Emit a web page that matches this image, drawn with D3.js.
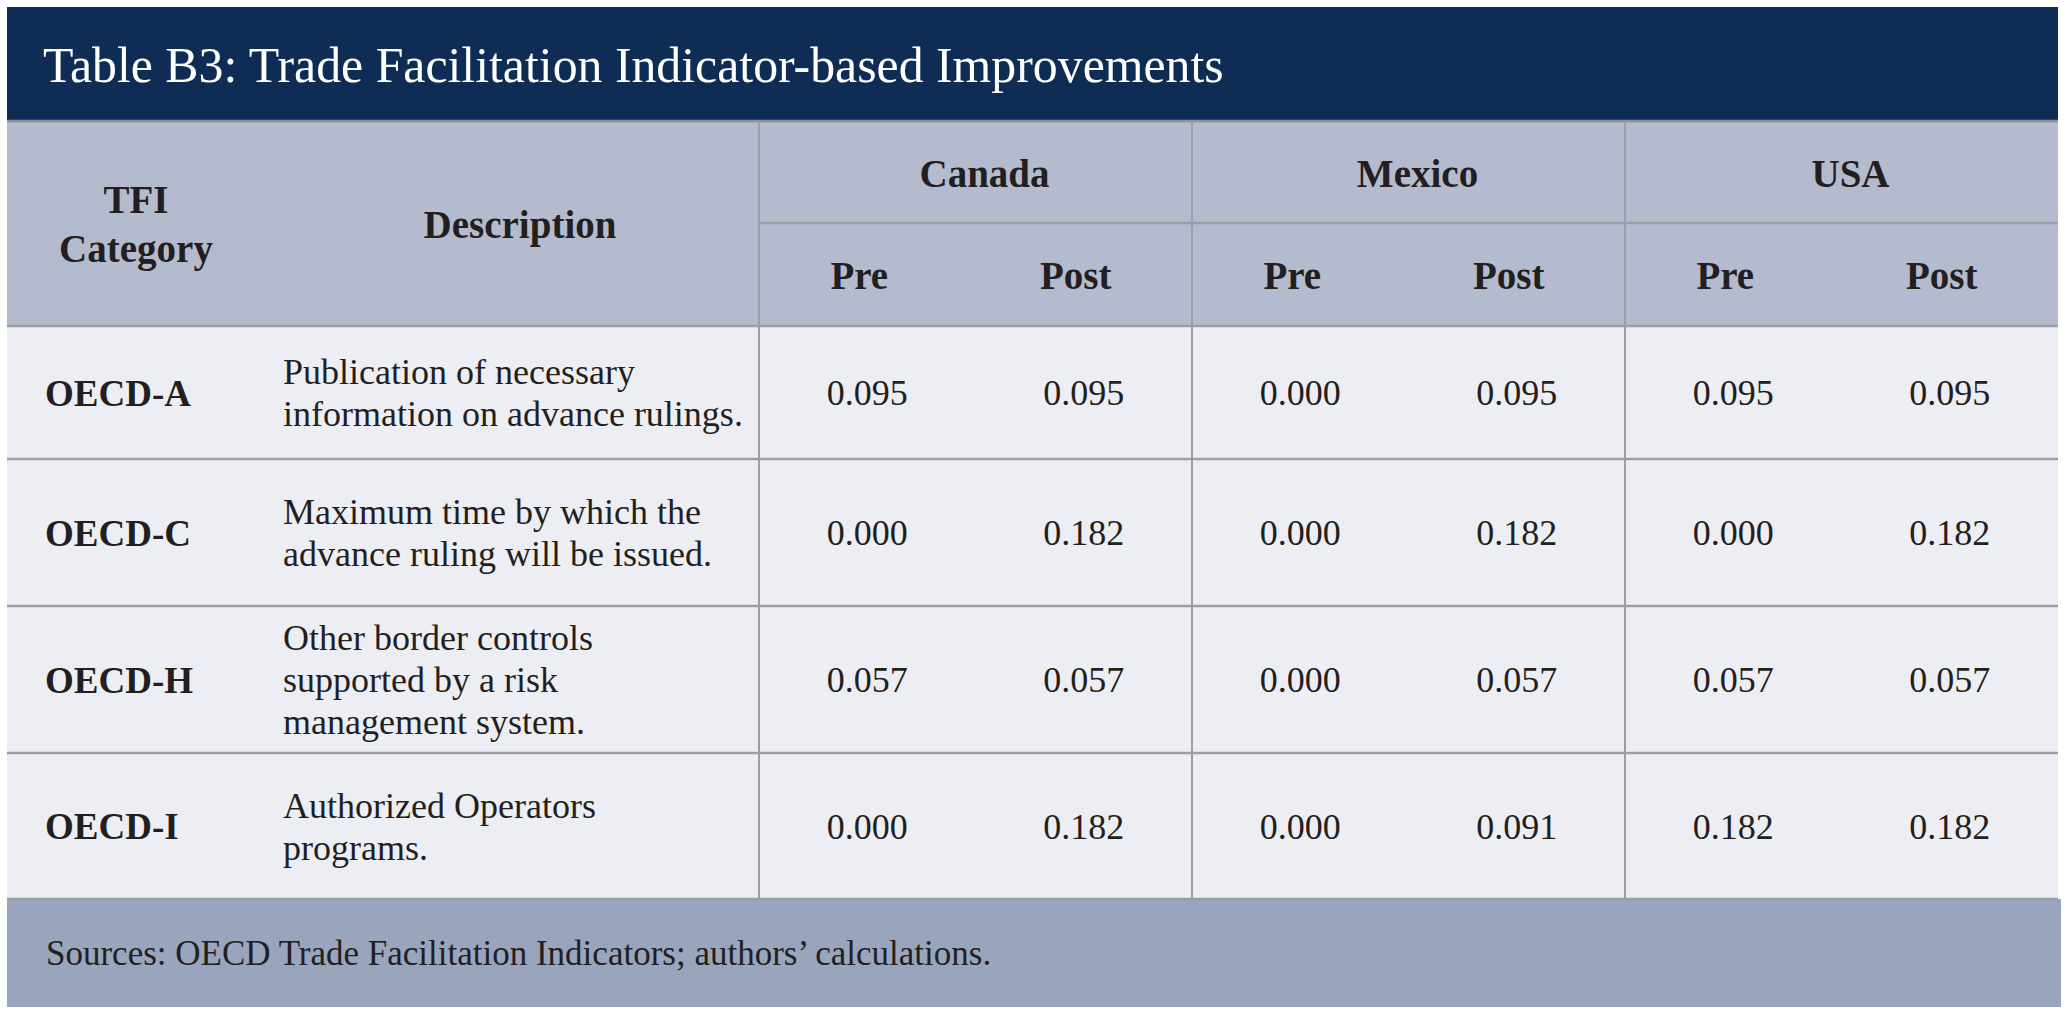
<!DOCTYPE html>
<html>
<head>
<meta charset="utf-8">
<script src="https://cdn.jsdelivr.net/npm/d3@7"></script>
<style>
  html, body { margin: 0; padding: 0; background: #ffffff; }
  svg text { font-family: "Liberation Serif", "Times New Roman", serif; fill: #231f20; }
</style>
</head>
<body>
<script>
// table content
const title = "Table B3: Trade Facilitation Indicator-based Improvements";
const source = "Sources: OECD Trade Facilitation Indicators; authors\u2019 calculations.";
const categories = ["OECD-A", "OECD-C", "OECD-H", "OECD-I"];
const descriptions = [
  ["Publication of necessary", "information on advance rulings."],
  ["Maximum time by which the", "advance ruling will be issued."],
  ["Other border controls", "supported by a risk", "management system."],
  ["Authorized Operators", "programs."]
];
const countries = ["Canada", "Mexico", "USA"];
const periods = ["Pre", "Post"];
const canadaPre  = [0.095, 0.000, 0.057, 0.000];
const canadaPost = [0.095, 0.182, 0.057, 0.182];
const mexicoPre  = [0.000, 0.000, 0.000, 0.000];
const mexicoPost = [0.095, 0.182, 0.057, 0.091];
const usaPre     = [0.095, 0.000, 0.057, 0.182];
const usaPost    = [0.095, 0.182, 0.057, 0.182];

const series = {
  Canada: { Pre: canadaPre, Post: canadaPost },
  Mexico: { Pre: mexicoPre, Post: mexicoPost },
  USA:    { Pre: usaPre,    Post: usaPost }
};

// layout
const W = 2068, H = 1012;
const left = 7, right = 2058;
const titleTop = 7, headTop = 121, headMid = 223, bodyTop = 326;
const rowHeights = [133, 147, 147, 146];
const footBottom = 1007;
const numStart = 759;
const lineColor = "#9d9ea3";
const fmt = d3.format(".3f");

const svg = d3.select("body").append("svg")
  .attr("width", W)
  .attr("height", H);

// row boundaries from heights
let rowTops = [bodyTop];
rowHeights.forEach((h, i) => rowTops.push(rowTops[i] + h));
const bodyBottom = rowTops[rowTops.length - 1];

// scales
const xCountry = d3.scaleBand().domain(countries).range([numStart, right]);
const keys = [];
countries.forEach(c => periods.forEach(p => keys.push(c + "|" + p)));
const xSub = d3.scaleBand().domain(keys).range([numStart, right]);
const yRow = d3.scaleOrdinal().domain(categories).range(rowTops.slice(0, 4));
const hRow = d3.scaleOrdinal().domain(categories).range(rowHeights);

// backgrounds
svg.append("rect").attr("x", left).attr("y", titleTop)
  .attr("width", right - left).attr("height", headTop - titleTop)
  .attr("fill", "#0f2c55");
svg.append("rect").attr("x", left).attr("y", headTop)
  .attr("width", right - left).attr("height", bodyTop - headTop)
  .attr("fill", "#b5bbce");
svg.append("rect").attr("x", left).attr("y", bodyTop)
  .attr("width", right - left).attr("height", bodyBottom - bodyTop)
  .attr("fill", "#edeef3");
svg.append("rect").attr("x", left).attr("y", bodyBottom)
  .attr("width", right + 3 - left).attr("height", footBottom - bodyBottom)
  .attr("fill", "#99a5bd");

// title
svg.append("text")
  .attr("x", 43).attr("y", 82)
  .style("font-size", "49.8px")
  .style("fill", "#ffffff")
  .text(title);

// grid lines
const grid = svg.append("g").attr("stroke", lineColor);
grid.append("line").attr("x1", left).attr("x2", right)
  .attr("y1", headTop).attr("y2", headTop).attr("stroke-width", 2.5).attr("stroke", "#8f9094");
grid.append("line").attr("x1", numStart).attr("x2", right)
  .attr("y1", headMid).attr("y2", headMid).attr("stroke-width", 2.5);
grid.selectAll("line.h").data(rowTops).join("line")
  .attr("class", "h")
  .attr("x1", left).attr("x2", right)
  .attr("y1", d => d).attr("y2", d => d)
  .attr("stroke-width", 2.5);
grid.selectAll("line.v").data(countries).join("line")
  .attr("class", "v")
  .attr("x1", d => xCountry(d)).attr("x2", d => xCountry(d))
  .attr("y1", headTop).attr("y2", bodyBottom)
  .attr("stroke-width", 2);

// header
const head = svg.append("g").style("font-weight", "bold").style("font-size", "39px")
  .attr("text-anchor", "middle");
head.append("text").attr("x", 136).attr("y", 213).text("TFI");
head.append("text").attr("x", 136).attr("y", 262).text("Category");
head.append("text").attr("x", 520).attr("y", 238).text("Description");
head.selectAll("text.country").data(countries).join("text")
  .attr("class", "country")
  .attr("x", d => xCountry(d) + xCountry.bandwidth() / 2 + 9)
  .attr("y", 187)
  .text(d => d);
head.selectAll("text.period").data(keys).join("text")
  .attr("class", "period")
  .attr("x", d => xSub(d) + xSub.bandwidth() / 2 - 8)
  .attr("y", 289)
  .text(d => d.split("|")[1]);

// body rows
const rows = svg.selectAll("g.row").data(categories).join("g")
  .attr("class", "row")
  .attr("transform", d => `translate(0,${yRow(d) + hRow(d) / 2})`);

rows.append("text")
  .attr("x", 45).attr("y", 13)
  .style("font-size", "37px")
  .style("font-weight", "bold")
  .text(d => d);

rows.each(function(d, i) {
  const lines = descriptions[i];
  d3.select(this).selectAll("text.desc").data(lines).join("text")
    .attr("class", "desc")
    .attr("x", 283)
    .attr("y", (l, j) => 12.5 - (lines.length - 1) * 21 + j * 42)
    .style("font-size", "36px")
    .text(l => l);
  d3.select(this).selectAll("text.val").data(keys).join("text")
    .attr("class", "val")
    .attr("x", k => xSub(k) + xSub.bandwidth() / 2)
    .attr("y", 12.5)
    .attr("text-anchor", "middle")
    .style("font-size", "36px")
    .text(k => {
      const [c, p] = k.split("|");
      return fmt(series[c][p][i]);
    });
});

// source note
svg.append("text")
  .attr("x", 46).attr("y", 965)
  .style("font-size", "35px")
  .text(source);
</script>
</body>
</html>
